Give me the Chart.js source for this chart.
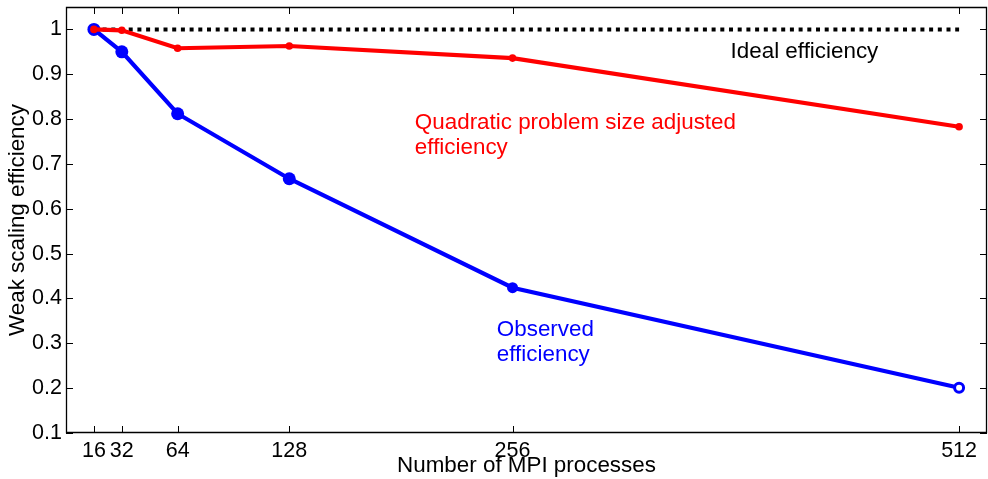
<!DOCTYPE html>
<html><head><meta charset="utf-8">
<script src="https://cdn.jsdelivr.net/npm/chart.js@4/dist/chart.umd.min.js"></script>
<style>html,body{margin:0;padding:0;background:#fff;overflow:hidden}#wrap{width:988px;height:479px;position:relative}</style>
</head><body><div id="wrap"><canvas id="c" width="988" height="479"></canvas></div>
<script>
// ---- data ----
const processes = [16, 32, 64, 128, 256, 512];
const observedEfficiency = [1.0, 0.950, 0.812, 0.667, 0.424, 0.201];
const adjustedEfficiency = [1.0, 0.998, 0.958, 0.963, 0.936, 0.783];
const idealProcesses = [16, 512];
const idealEfficiency = [1, 1];
const xTickValues = [16, 32, 64, 128, 256, 512];
const yTickValues = [0.1, 0.2, 0.3, 0.4, 0.5, 0.6, 0.7, 0.8, 0.9, 1.0];
const xTitle = 'Number of MPI processes';
const yTitle = 'Weak scaling efficiency';
const annotations = [
  { x: 381, y: 0.950, lines: ['Ideal efficiency'], color: '#000000' },
  { x: 200, y: 0.792, lines: ['Quadratic problem size adjusted', 'efficiency'], color: '#ff0000' },
  { x: 247, y: 0.330, lines: ['Observed', 'efficiency'], color: '#0000ff' }
];

const FONT = '"Liberation Sans", Arial, Helvetica, sans-serif';
Chart.defaults.font.family = FONT;
Chart.defaults.color = '#000';

const toXY = (xs, ys) => xs.map((x, i) => ({ x: x, y: ys[i] }));

const frameTicks = {
  id: 'frameTicks',
  afterDatasetsDraw(chart) {
    const ctx = chart.ctx, a = chart.chartArea;
    const xs = chart.scales.x, ys = chart.scales.y;
    const L = 7;
    ctx.save();
    ctx.strokeStyle = '#000';
    ctx.lineWidth = 1.3;
    ctx.beginPath();
    ctx.rect(a.left + 0.5, a.top + 0.5, a.right - a.left - 1, a.bottom - a.top - 1);
    ctx.stroke();
    ctx.lineWidth = 1;
    ctx.beginPath();
    xTickValues.forEach(v => {
      const px = Math.round(xs.getPixelForValue(v)) + 0.5;
      ctx.moveTo(px, a.bottom); ctx.lineTo(px, a.bottom - L);
      ctx.moveTo(px, a.top); ctx.lineTo(px, a.top + L);
    });
    yTickValues.forEach(v => {
      const py = Math.round(ys.getPixelForValue(v)) + 0.5;
      ctx.moveTo(a.left, py); ctx.lineTo(a.left + L, py);
      ctx.moveTo(a.right, py); ctx.lineTo(a.right - L, py);
    });
    ctx.stroke();
    // annotations
    ctx.font = '22.4px ' + FONT;
    ctx.textBaseline = 'middle';
    ctx.textAlign = 'left';
    annotations.forEach(an => {
      ctx.fillStyle = an.color;
      const px = xs.getPixelForValue(an.x);
      const py = ys.getPixelForValue(an.y);
      an.lines.forEach((t, i) => ctx.fillText(t, px, py + i * 25));
    });
    ctx.restore();
  }
};

new Chart(document.getElementById('c'), {
  type: 'line',
  data: {
    datasets: [
      {
        label: 'Adjusted', data: toXY(processes, adjustedEfficiency),
        borderColor: '#ff0000', backgroundColor: '#ff0000',
        borderWidth: 4.2, pointRadius: 3.8, pointBorderWidth: 0, pointHoverRadius: 3.8,
        order: 0, tension: 0
      },
      {
        label: 'Observed', data: toXY(processes, observedEfficiency),
        borderColor: '#0000ff', backgroundColor: '#0000ff',
        pointBackgroundColor: ['#0000ff', '#0000ff', '#0000ff', '#0000ff', '#0000ff', '#ffffff'],
        pointBorderColor: '#0000ff',
        borderWidth: 4.2, pointRadius: [6.5, 6.5, 6.5, 6.5, 5.5, 4.5], pointBorderWidth: [0, 0, 0, 0, 0, 3],
        order: 1, tension: 0
      },
      {
        label: 'Ideal', data: toXY(idealProcesses, idealEfficiency),
        borderColor: '#000000', borderWidth: 4, borderDash: [4, 4.7], borderCapStyle: 'butt',
        pointRadius: 0, order: 2
      }
    ]
  },
  options: {
    responsive: false, animation: false, devicePixelRatio: 1,
    layout: { autoPadding: false, padding: { top: 7, right: 1, left: 0, bottom: 0 } },
    plugins: { legend: { display: false }, tooltip: { enabled: false } },
    scales: {
      x: {
        type: 'linear', min: 0, max: 528,
        afterBuildTicks: s => { s.ticks = xTickValues.map(v => ({ value: v })); },
        afterFit: s => { s.height = 46; s.paddingLeft = 0; s.paddingRight = 0; },
        grid: { display: false, drawTicks: false },
        border: { display: false },
        ticks: { font: { size: 21.5 }, color: '#000', padding: 5, maxRotation: 0, autoSkip: false,
                 callback: v => String(v) },
        title: { display: true, text: xTitle, font: { size: 22.4 }, color: '#000', padding: { top: -1, bottom: 0 } }
      },
      y: {
        type: 'linear', min: 0.1, max: 1.05,
        afterBuildTicks: s => { s.ticks = yTickValues.map(v => ({ value: v })); },
        afterFit: s => { s.width = 66; s.paddingTop = 0; s.paddingBottom = 0; },
        grid: { display: false, drawTicks: false },
        border: { display: false },
        ticks: { font: { size: 21.5 }, color: '#000', padding: 4, autoSkip: false,
                 callback: v => String(+Number(v).toFixed(1)) },
        title: { display: true, text: yTitle, font: { size: 22.4 }, color: '#000', padding: { top: 4, bottom: 0 } }
      }
    }
  },
  plugins: [frameTicks]
});
</script></body></html>
